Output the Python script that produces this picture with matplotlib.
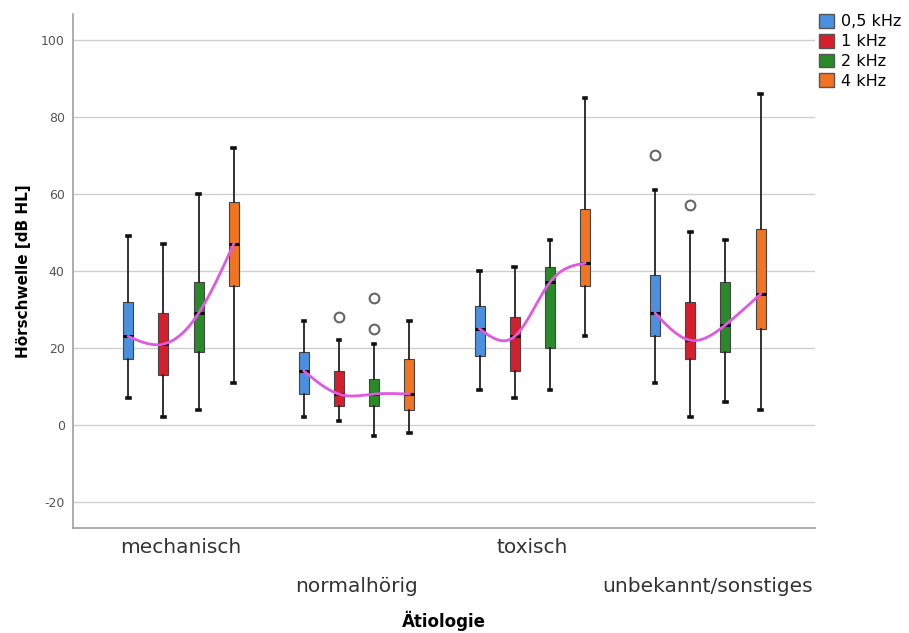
import numpy as np
import matplotlib.pyplot as plt
from matplotlib.patches import Patch

plt.rcParams['axes.unicode_minus'] = False

# Kategorien und Frequenzen
categories = ['mechanisch', 'normalhörig', 'toxisch', 'unbekannt/sonstiges']
freqs = ['0,5 kHz', '1 kHz', '2 kHz', '4 kHz']
colors = ['#4a8fe0', '#d61f2c', '#2a8a2a', '#f07422']

# Boxplot-Kennwerte je Frequenz (Zeilen) und Ätiologie (Spalten), in dB HL
whislo = [[7, 2, 9, 11], [2, 1, 7, 2], [4, -3, 9, 6], [11, -2, 23, 4]]
q1 = [[17, 8, 18, 23], [13, 5, 14, 17], [19, 5, 20, 19], [36, 4, 36, 25]]
med = [[23, 14, 25, 29], [21, 8, 23, 22], [29, 8, 37, 26], [47, 8, 42, 34]]
q3 = [[32, 19, 31, 39], [29, 14, 28, 32], [37, 12, 41, 37], [58, 17, 56, 51]]
whishi = [[49, 27, 40, 61], [47, 22, 41, 50], [60, 21, 48, 48], [72, 27, 85, 86]]
fliers = [[[], [], [], [70]],
          [[], [28], [], [57]],
          [[], [33, 25], [], []],
          [[], [], [], []]]

offsets = [-0.3, -0.1, 0.1, 0.3]
box_w = 0.057


def natural_spline(x, y, n=100):
    # natürlicher kubischer Spline durch die Mediane
    x = np.asarray(x, float)
    y = np.asarray(y, float)
    k = len(x)
    h = np.diff(x)
    A = np.zeros((k, k))
    b = np.zeros(k)
    A[0, 0] = A[-1, -1] = 1
    for i in range(1, k - 1):
        A[i, i - 1] = h[i - 1]
        A[i, i] = 2 * (h[i - 1] + h[i])
        A[i, i + 1] = h[i]
        b[i] = 3 * ((y[i + 1] - y[i]) / h[i] - (y[i] - y[i - 1]) / h[i - 1])
    c = np.linalg.solve(A, b)
    xs = np.linspace(x[0], x[-1], n)
    ys = np.empty_like(xs)
    for j, xv in enumerate(xs):
        i = min(np.searchsorted(x, xv, side='right') - 1, k - 2)
        d = xv - x[i]
        bi = (y[i + 1] - y[i]) / h[i] - h[i] * (2 * c[i] + c[i + 1]) / 3
        di = (c[i + 1] - c[i]) / (3 * h[i])
        ys[j] = y[i] + bi * d + c[i] * d ** 2 + di * d ** 3
    return xs, ys


fig = plt.figure(figsize=(9.09, 6.33), dpi=100)
ax = fig.add_axes([0.0803, 0.166, 0.8163, 0.812])

for f in range(len(freqs)):
    stats = []
    for c in range(len(categories)):
        stats.append(dict(med=med[f][c], q1=q1[f][c], q3=q3[f][c],
                          whislo=whislo[f][c], whishi=whishi[f][c],
                          fliers=fliers[f][c]))
    pos = [c + offsets[f] for c in range(len(categories))]
    ax.bxp(stats, positions=pos, widths=box_w, capwidths=0.014,
           patch_artist=True, showfliers=True,
           boxprops=dict(facecolor=colors[f], edgecolor='#444444', linewidth=0.8),
           whiskerprops=dict(color='#222222', linewidth=1.3),
           capprops=dict(color='#111111', linewidth=2.6),
           medianprops=dict(color='black', linewidth=2.2),
           flierprops=dict(marker='o', markerfacecolor='none',
                           markeredgecolor='#666666', markersize=7,
                           markeredgewidth=1.5),
           zorder=3)

# Verbindungslinie der Mediane je Gruppe
for c in range(len(categories)):
    xs, ys = natural_spline([c + o for o in offsets], [med[f][c] for f in range(len(freqs))])
    ax.plot(xs, ys, color='#e159e1', linewidth=2, zorder=4)

ax.set_xlim(-0.615, 3.61)
ax.set_ylim(-26.75, 106.75)
ax.set_yticks(range(-20, 101, 20))
ax.yaxis.grid(True, color='#cfcfcf', linewidth=1)
ax.set_axisbelow(True)
for s in ['top', 'right']:
    ax.spines[s].set_visible(False)
for s in ['left', 'bottom']:
    ax.spines[s].set_color('#a0a0a0')
    ax.spines[s].set_linewidth(1.2)

ax.tick_params(axis='y', length=0, pad=6, labelsize=9, labelcolor='#555555')
ax.set_xticks(range(len(categories)))
ax.set_xticklabels(categories, fontsize=14.5, color='#333333')
ax.tick_params(axis='x', length=0)
for i, tick in enumerate(ax.xaxis.get_major_ticks()):
    tick.set_pad(7 if i % 2 == 0 else 35)

ax.set_ylabel('Hörschwelle [dB HL]', fontsize=11, fontweight='bold', labelpad=7)
ax.set_xlabel('Ätiologie', fontsize=12, fontweight='bold', labelpad=11)

handles = [Patch(facecolor=col, edgecolor='#555555', label=lab) for col, lab in zip(colors, freqs)]
fig.legend(handles=handles, loc='upper left', bbox_to_anchor=(0.901, 0.978),
           frameon=False, fontsize=11.5, handlelength=0.95, handleheight=0.95,
           handletextpad=0.4, labelspacing=0.28, borderaxespad=0, borderpad=0)

fig.savefig('out.png', dpi=100)
